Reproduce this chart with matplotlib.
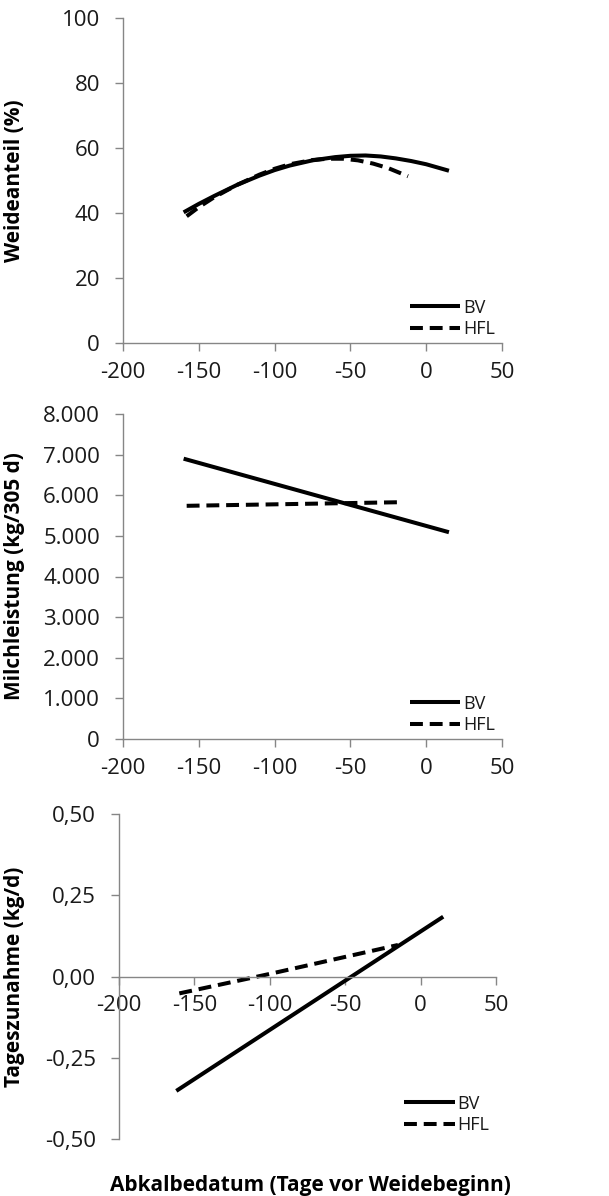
import matplotlib
matplotlib.use("Agg")
import matplotlib.pyplot as plt
from matplotlib.ticker import FixedLocator

plt.rcParams['font.family'] = ['Open Sans', 'DejaVu Sans']

# ---- data ----
x_ticks = [-200, -150, -100, -50, 0, 50]
x_ticklabels = ["-200", "-150", "-100", "-50", "0", "50"]

# Panel 1: Weideanteil (%)
w_bv_x = [-160, -150, -140, -125, -110, -100, -90, -75, -60, -50, -40, -30, -20, -10, 0, 15]
w_bv_y = [40.2, 42.8, 45.2, 48.6, 51.5, 53.2, 54.6, 56.2, 57.2, 57.6, 57.7, 57.4, 56.8, 56.0, 55.0, 53.0]
w_hfl_x = [-158, -150, -140, -125, -110, -100, -90, -75, -65, -55, -45, -35, -25, -12]
w_hfl_y = [39.0, 41.8, 44.8, 48.6, 51.8, 53.6, 55.0, 56.3, 56.7, 56.7, 56.2, 55.2, 53.8, 51.3]
w_yticks = [0, 20, 40, 60, 80, 100]
w_yticklabels = ["0", "20", "40", "60", "80", "100"]

# Panel 2: Milchleistung (kg/305 d)
m_bv_x = [-160, 15]
m_bv_y = [6900, 5090]
m_hfl_x = [-158, -15]
m_hfl_y = [5740, 5830]
m_yticks = [0, 1000, 2000, 3000, 4000, 5000, 6000, 7000, 8000]
m_yticklabels = ["0", "1.000", "2.000", "3.000", "4.000", "5.000", "6.000", "7.000", "8.000"]

# Panel 3: Tageszunahme (kg/d)
t_bv_x = [-162, 15]
t_bv_y = [-0.352, 0.184]
t_hfl_x = [-160, -100, -15]
t_hfl_y = [-0.052, 0.008, 0.097]
t_yticks = [-0.5, -0.25, 0.0, 0.25, 0.5]
t_yticklabels = ["-0,50", "-0,25", "0,00", "0,25", "0,50"]

series_labels = ["BV", "HFL"]
ylabels = ["Weideanteil (%)", "Milchleistung (kg/305 d)", "Tageszunahme (kg/d)"]
xlabel = "Abkalbedatum (Tage vor Weidebeginn)"

# ---- figure ----
W, H = 609, 1196
fig = plt.figure(figsize=(W / 100, H / 100), dpi=100)

def frac_box(l, r, t, b):
    return [l / W, 1 - b / H, (r - l) / W, (b - t) / H]

axes = [
    fig.add_axes(frac_box(123, 502, 18, 343)),
    fig.add_axes(frac_box(123, 502, 414, 739)),
    fig.add_axes(frac_box(119, 496, 814, 1139)),
]

spine_col = "#868686"
lw = 2.9
dash = (0, (3.2, 1.7))

panels = [
    (w_bv_x, w_bv_y, w_hfl_x, w_hfl_y, w_yticks, w_yticklabels, (0, 100)),
    (m_bv_x, m_bv_y, m_hfl_x, m_hfl_y, m_yticks, m_yticklabels, (0, 8000)),
    (t_bv_x, t_bv_y, t_hfl_x, t_hfl_y, t_yticks, t_yticklabels, (-0.5, 0.5)),
]

for i, (ax, p) in enumerate(zip(axes, panels)):
    bx, by, hx, hy, yt, ytl, ylim = p
    ax.plot(bx, by, color="black", lw=lw, solid_capstyle="butt", label=series_labels[0])
    ax.plot(hx, hy, color="black", lw=lw, linestyle=dash, dash_capstyle="butt", label=series_labels[1])
    ax.set_xlim(-200, 50)
    ax.set_ylim(*ylim)
    ax.xaxis.set_major_locator(FixedLocator(x_ticks))
    ax.set_xticklabels(x_ticklabels)
    ax.yaxis.set_major_locator(FixedLocator(yt))
    ax.set_yticklabels(ytl)
    for s in ["top", "right"]:
        ax.spines[s].set_visible(False)
    for s in ["left", "bottom"]:
        ax.spines[s].set_color(spine_col)
        ax.spines[s].set_linewidth(1.0)
    if i == 2:
        ax.spines["bottom"].set_position(("data", 0))
    ax.tick_params(axis="both", direction="out", length=5.5, width=1.0, color=spine_col,
                   labelsize=16, labelcolor="#1a1a1a", pad=8)
    ax.tick_params(axis="y", pad=11)
    ax.set_ylabel(ylabels[i], fontsize=15, fontweight="bold", color="black")
    if i == 2:
        ax.yaxis.set_label_coords(-0.249, 0.5)
    else:
        ax.yaxis.set_label_coords(-0.259, 0.5)
    leg = ax.legend(loc="lower left", bbox_to_anchor=(0.757, 0.015), frameon=False,
                    fontsize=13, handlelength=2.8, handletextpad=0.15, borderpad=0,
                    borderaxespad=0, labelspacing=0.2)
    for t in leg.get_texts():
        t.set_color("#1a1a1a")

fig.text(310 / W, 1 - 1185 / H, xlabel, ha="center", va="center", fontsize=15,
         fontweight="bold", color="black")

fig.savefig("out.png", dpi=100, facecolor="white")
